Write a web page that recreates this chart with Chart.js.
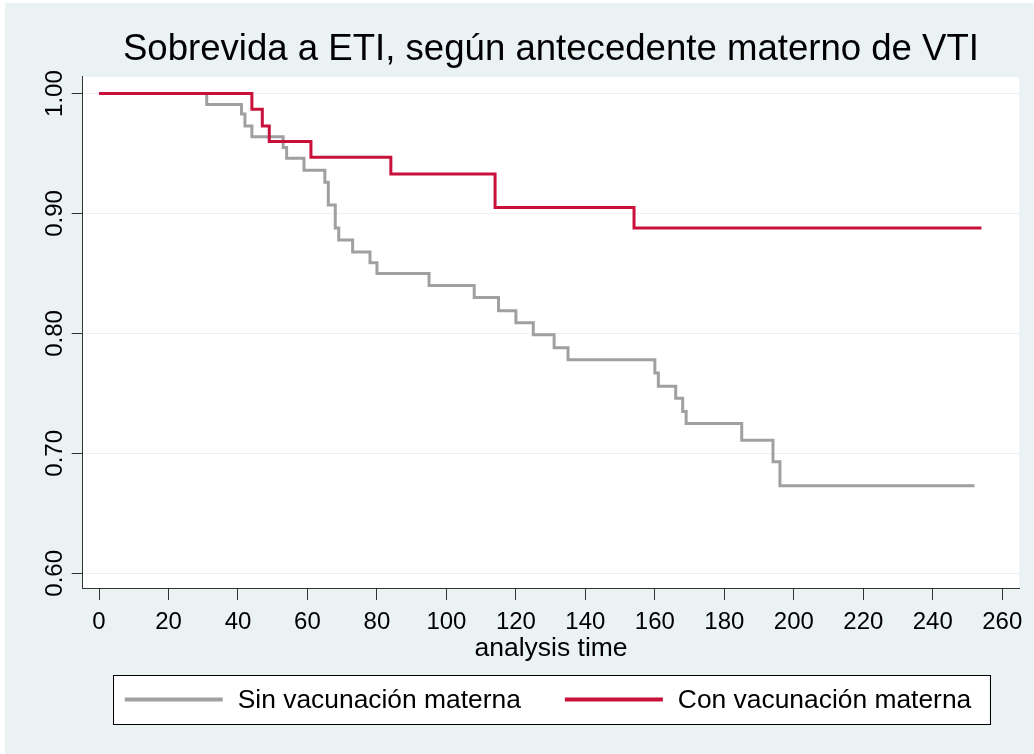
<html>
<head>
<script src="https://cdn.jsdelivr.net/npm/chart.js@4.4.0/dist/chart.umd.min.js"></script>
<style>
  body { margin: 0; background: #ffffff; }
  #canvas { display: block; }
</style>
<title>Sobrevida a ETI</title>
</head>
<body>
<canvas id="canvas" width="1034" height="754"></canvas>
<script>
// Kaplan-Meier steps (time in days, survival)
var sinTiempo = [0, 31, 41, 42, 44, 53, 54, 59, 65, 66, 68, 69, 73, 78, 80, 95, 108, 115, 120, 125, 131, 135, 160, 161, 166, 168, 169, 185, 194, 196, 252];
var sinSurv   = [1.000, 0.991, 0.983, 0.973, 0.964, 0.955, 0.946, 0.936, 0.926, 0.907, 0.888, 0.878, 0.868, 0.859, 0.850, 0.840, 0.830, 0.819, 0.809, 0.799, 0.788, 0.778, 0.767, 0.756, 0.746, 0.735, 0.725, 0.711, 0.693, 0.673, 0.673];
var conTiempo = [0, 44, 47, 49, 61, 84, 114, 154, 254];
var conSurv   = [1.000, 0.987, 0.973, 0.960, 0.947, 0.933, 0.905, 0.888, 0.888];

var labels = ["Sin vacunación materna", "Con vacunación materna"];
var xTicks = [0, 20, 40, 60, 80, 100, 120, 140, 160, 180, 200, 220, 240, 260];
var yTicks = [0.6, 0.7, 0.8, 0.9, 1.0];

var FONT = '"Liberation Sans", Arial, sans-serif';
var BG = '#eaf2f3';

function toPoints(xs, ys) {
  return xs.map(function(x, i){ return {x: x, y: ys[i]}; });
}

// Stata-like graph region: light background, white plot region
var background = {
  id: 'background',
  beforeDraw: function(chart) {
    var ctx = chart.ctx, a = chart.chartArea;
    ctx.save();
    ctx.fillStyle = '#ffffff';
    ctx.fillRect(0, 0, chart.width, chart.height);
    ctx.fillStyle = BG;
    ctx.fillRect(5, 3, chart.width - 5, chart.height - 3);
    ctx.fillStyle = '#ffffff';
    ctx.fillRect(a.left, a.top, a.right - a.left, a.bottom - a.top);
    ctx.restore();
  }
};

// vertical (rotated) y tick labels, placed from the y scale's own ticks
var yLabels = {
  id: 'yLabels',
  afterDraw: function(chart) {
    var ctx = chart.ctx, s = chart.scales.y;
    ctx.save();
    ctx.font = '24px ' + FONT;
    ctx.fillStyle = '#000000';
    ctx.textAlign = 'center';
    ctx.textBaseline = 'middle';
    s.ticks.forEach(function(t){
      ctx.save();
      ctx.translate(s.right - 27.5, s.getPixelForValue(t.value));
      ctx.rotate(-Math.PI / 2);
      ctx.fillText(Number(t.value).toFixed(2), 0, 0);
      ctx.restore();
    });
    ctx.restore();
  }
};

// boxed legend under the axis title
var legendBox = {
  id: 'legendBox',
  afterDraw: function(chart) {
    var ctx = chart.ctx, a = chart.chartArea;
    var lineW = 98, gap = 15, between = 44;
    ctx.save();
    ctx.font = '26.4px ' + FONT;
    var items = chart.data.datasets.map(function(ds){
      return {text: ds.label, color: ds.borderColor, w: ctx.measureText(ds.label).width};
    });
    var total = 0;
    items.forEach(function(it, i){ total += lineW + gap + it.w + (i ? between : 0); });
    var cy = chart.height - 54.5;
    var x = (a.left + a.right) / 2 - 3 - total / 2;
    ctx.fillStyle = '#ffffff';
    ctx.fillRect(x - 12, cy - 24.5, total + 30, 49);
    ctx.strokeStyle = '#000000';
    ctx.lineWidth = 1;
    ctx.strokeRect(Math.round(x - 12) + 0.5, Math.round(cy - 24.5) + 0.5, Math.round(total + 30), 49);
    ctx.textBaseline = 'middle';
    ctx.textAlign = 'left';
    items.forEach(function(it){
      ctx.strokeStyle = it.color;
      ctx.lineWidth = 4;
      ctx.beginPath();
      ctx.moveTo(x, cy);
      ctx.lineTo(x + lineW, cy);
      ctx.stroke();
      ctx.fillStyle = '#000000';
      ctx.fillText(it.text, x + lineW + gap, cy + 1);
      x += lineW + gap + it.w + between;
    });
    ctx.restore();
  }
};

var chart;

window.onload = function(){
  var ctx = document.getElementById("canvas");

  chart = new Chart(ctx, {
    type: 'line',
    data: {
      datasets: [{
        label: labels[0],
        data: toPoints(sinTiempo, sinSurv),
        borderColor: '#a0a0a0',
        borderWidth: 3,
        stepped: 'before',
        pointRadius: 0,
        fill: false,
        order: 1
      }, {
        label: labels[1],
        data: toPoints(conTiempo, conSurv),
        borderColor: '#c8103a',
        borderWidth: 3,
        stepped: 'before',
        pointRadius: 0,
        fill: false,
        order: 0
      }]
    },
    options: {
      responsive: false,
      animation: false,
      layout: {
        padding: {left: 71.7, right: 14.7, top: 0, bottom: 89.8}
      },
      plugins: {
        legend: { display: false },
        tooltip: { enabled: false },
        title: {
          display: true,
          fullSize: false,
          text: 'Sobrevida a ETI, según antecedente materno de VTI',
          color: '#000000',
          font: { family: FONT, size: 36.6, weight: 'normal' },
          padding: { top: 28, bottom: 5 }
        }
      },
      scales: {
        x: {
          type: 'linear',
          min: -4.7,
          max: 264.9,
          afterBuildTicks: function(scale){
            scale.ticks = xTicks.map(function(v){ return {value: v}; });
          },
          ticks: {
            color: '#000000',
            font: { family: FONT, size: 24 },
            padding: 8,
            maxRotation: 0,
            autoSkip: false
          },
          grid: {
            drawOnChartArea: false,
            tickLength: 11,
            tickColor: '#333333',
            tickWidth: 1
          },
          border: { color: '#333333', width: 1 },
          title: {
            display: true,
            text: 'analysis time',
            color: '#000000',
            font: { family: FONT, size: 26.5 },
            padding: { top: -12.4, bottom: 0 }
          }
        },
        y: {
          type: 'linear',
          min: 0.5869,
          max: 1.0139,
          afterBuildTicks: function(scale){
            scale.ticks = yTicks.map(function(v){ return {value: v}; });
          },
          ticks: { display: false },
          grid: {
            color: '#eaf2f3',
            lineWidth: 1,
            tickLength: 11,
            tickColor: '#333333',
            tickWidth: 1
          },
          border: { color: '#333333', width: 1 }
        }
      }
    },
    plugins: [background, yLabels, legendBox]
  });
};
</script>
</body>
</html>
